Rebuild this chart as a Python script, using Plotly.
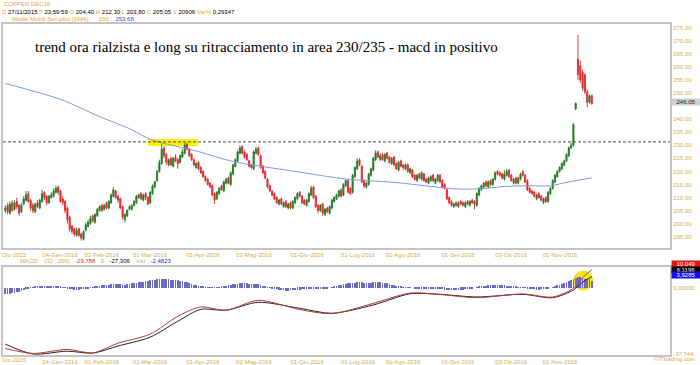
import plotly.graph_objects as go

# ---------------- DATA ----------------
open_ = [205.0, 207.0, 204.0, 208.0, 205.5, 208.5, 207.0, 204.5, 207.5, 209.0,
         211.5, 209.0, 207.0, 204.5, 208.0, 206.0, 208.5, 212.0, 210.5, 208.0,
         210.0, 210.5, 212.0, 214.0, 212.5, 209.5, 208.5, 206.0, 202.5, 199.0,
         198.0, 195.5, 198.0, 196.0, 194.0, 197.5, 199.0, 200.0, 203.0, 200.5,
         203.0, 205.0, 207.0, 205.5, 208.0, 206.0, 208.0, 210.5, 212.5, 210.5,
         209.5, 206.5, 201.5, 203.0, 205.5, 205.5, 207.0, 208.0, 210.0, 211.5,
         209.0, 211.5, 210.0, 208.0, 211.5, 214.0, 216.5, 220.0, 223.0, 229.0,
         226.5, 222.5, 225.0, 222.0, 225.5, 224.5, 223.5, 225.5, 227.0, 230.5,
         228.5, 226.5, 224.5, 221.5, 223.5, 221.5, 220.0, 218.0, 217.0, 215.5,
         214.5, 211.5, 209.5, 211.5, 214.5, 212.5, 215.5, 217.5, 215.0, 219.0,
         222.0, 224.0, 227.0, 229.5, 227.5, 226.5, 224.0, 222.5, 221.0, 227.0,
         229.0, 226.0, 222.0, 220.0, 217.0, 214.5, 212.5, 211.5, 210.0, 207.5,
         209.5, 206.5, 208.5, 206.0, 208.0, 206.0, 208.0, 209.5, 212.0, 210.5,
         209.0, 207.0, 208.5, 211.0, 214.0, 210.5, 207.0, 205.0, 207.5, 203.5,
         206.0, 204.0, 206.0, 208.5, 209.5, 210.5, 213.0, 211.0, 214.5, 216.5,
         213.5, 212.0, 218.0, 221.0, 224.5, 222.0, 216.5, 214.0, 215.0, 218.5,
         220.5, 224.5, 227.5, 224.5, 226.5, 224.0, 227.0, 225.5, 223.0, 225.5,
         223.0, 220.5, 224.0, 222.5, 221.0, 222.5, 219.5, 220.5, 218.5, 216.5,
         219.0, 217.0, 219.0, 217.0, 215.5, 216.5, 218.5, 215.5, 216.5, 218.5,
         216.5, 215.0, 213.0, 210.0, 208.5, 206.5, 208.0, 206.5, 208.5, 208.0,
         206.5, 208.5, 207.0, 209.0, 208.5, 207.0, 211.0, 213.0, 214.0, 216.0,
         214.0, 216.5, 215.0, 217.0, 220.0, 219.5, 219.0, 217.0, 218.5, 220.5,
         218.5, 215.5, 217.5, 215.5, 217.0, 220.0, 218.5, 216.5, 213.5, 212.5,
         212.0, 209.5, 211.5, 210.5, 208.0, 210.0, 208.5, 211.5, 213.5, 216.0,
         218.0, 220.0, 221.0, 222.5, 224.0, 226.0, 229.0, 230.0, 244.0, 263.0,
         260.5, 258.0, 257.0, 250.5, 246.5, 249.0]

high = [207, 208, 208.5, 209, 209, 210, 207.5, 208, 210.5, 212.5,
        212.5, 209.5, 208, 208, 209, 209.5, 213, 212.5, 211, 211,
        212, 213.5, 214.5, 214.5, 213, 210.5, 209, 206.5, 203, 199.5,
        198.5, 198.5, 198.5, 196.5, 197.5, 200.5, 201.5, 203, 203.5, 204,
        206, 207, 207.5, 207.5, 208.5, 209, 211.5, 214, 213, 211,
        210, 207, 204, 205.5, 207, 207.5, 209, 211, 211.5, 212,
        211.5, 212, 210.5, 212.5, 215, 216.5, 220.5, 224.5, 230.5, 229.5,
        227, 225, 225.5, 225.5, 226.5, 225, 226.5, 228.5, 231, 231,
        229, 227, 225, 223.5, 224, 222, 220.5, 218.5, 217.5, 216,
        215, 212, 212.5, 214, 215, 216.5, 217.5, 218, 220, 223,
        225, 228, 230, 230, 228, 227, 224.5, 223, 228, 229.5,
        229.5, 226.5, 222.5, 220.5, 217.5, 215, 213, 212, 210.5, 209.5,
        210, 208.5, 209, 208, 208.5, 209, 210.5, 212, 212.5, 211,
        209.5, 209.5, 212, 214.5, 214.5, 211, 207.5, 207.5, 208, 206,
        206.5, 207, 209.5, 210.5, 211.5, 213, 213.5, 215.5, 217, 217,
        214, 219, 222, 225, 225, 222.5, 217, 216, 219.5, 221.5,
        225.5, 228, 228, 227, 227, 227, 227.5, 226, 225.5, 226,
        223.5, 224, 224.5, 223, 223, 223, 221.5, 221, 219, 219,
        219.5, 220, 219.5, 217.5, 218, 218.5, 219, 217.5, 219, 219,
        217, 215.5, 213.5, 210.5, 209, 208, 208.5, 208.5, 209, 208.5,
        208.5, 209, 209, 209.5, 209, 212, 214, 215, 216, 216.5,
        216.5, 217, 217.5, 220, 220.5, 220, 219.5, 220.5, 221, 221,
        219, 217.5, 218, 218, 219.5, 220.5, 219, 217, 214, 213,
        212.5, 211.5, 212, 211, 210, 210.5, 212.5, 214, 217, 219,
        220.5, 222, 223.5, 224.5, 227, 229.5, 231, 238.5, 246.5, 272.3,
        262.5, 259, 257.5, 251.5, 249.5, 249.5]

low = [204, 203.5, 203.5, 204.5, 205, 205.5, 203, 204, 207, 208.5,
       208, 205, 204, 204, 206, 205.5, 208, 209, 207, 207.5,
       209.5, 210, 211.5, 211, 208, 207, 204, 200, 197, 196,
       195, 195, 195, 193.5, 193.5, 197, 198.5, 199.5, 200.5, 200,
       202.5, 204.5, 204.5, 205, 205.5, 205.5, 207.5, 210, 209.5, 208,
       205.5, 201.5, 200.5, 202.5, 205, 205, 206.5, 207.5, 209.5, 209,
       208.5, 209, 207, 207.5, 211, 213.5, 216, 219.5, 222.5, 225,
       222.5, 222, 222, 221.5, 223.5, 221, 223, 225, 226.5, 228,
       225.5, 224, 222, 221, 220.5, 219, 217.5, 216, 214.5, 213.5,
       210.5, 207.5, 209, 211, 212.5, 212, 215, 215, 214.5, 218.5,
       221.5, 223.5, 226.5, 226.5, 225, 224, 221.5, 221, 220.5, 226.5,
       226, 221, 219, 217, 213.5, 212, 210.5, 209, 207.5, 207,
       207, 206, 206, 205.5, 205.5, 205.5, 207.5, 209, 210, 207.5,
       207, 206.5, 208, 210.5, 209.5, 206, 204, 204.5, 203, 203,
       204, 203.5, 205.5, 208, 209, 210, 210, 210.5, 214, 211.5,
       211, 211.5, 217.5, 220.5, 222, 215.5, 213.5, 213.5, 214.5, 218,
       220, 224, 225, 224, 224, 223.5, 224.5, 223, 222.5, 222,
       220.5, 220, 221.5, 220.5, 220.5, 219.5, 219, 217.5, 216.5, 216,
       217, 216.5, 216, 215.5, 215, 216, 216, 215, 216, 215.5,
       213.5, 213, 209, 207.5, 206.5, 206, 206.5, 206, 207, 206.5,
       206, 207, 206.5, 207.5, 205.5, 206.5, 210.5, 212.5, 213.5, 214,
       213.5, 214.5, 214.5, 216.5, 218.5, 218, 217, 216.5, 218, 217.5,
       216, 215, 215, 215, 216.5, 218, 215.5, 212.5, 211.5, 211,
       210, 209, 209.5, 208.5, 207.5, 208, 208, 211, 213, 215.5,
       217.5, 219.5, 220.5, 222, 223.5, 225.5, 228.5, 229.5, 243.5, 255,
       254, 251, 249.5, 244.5, 246, 245.5]

close = [206.0, 204.5, 207.5, 205.0, 208.0, 206.5, 204.0, 207.0, 209.5, 211.0,
         208.5, 206.0, 205.0, 207.5, 206.5, 209.0, 211.5, 210.0, 208.0, 210.5,
         211.0, 212.5, 213.5, 212.0, 208.5, 208.0, 205.0, 201.5, 198.0, 197.0,
         196.0, 197.5, 195.5, 194.5, 197.0, 199.5, 200.5, 202.0, 201.0, 203.5,
         205.5, 206.5, 205.0, 207.0, 206.0, 208.5, 211.0, 213.0, 210.0, 209.0,
         206.0, 202.5, 203.5, 205.0, 206.5, 207.0, 208.5, 210.5, 211.0, 209.5,
         211.0, 210.0, 207.5, 212.0, 214.5, 216.0, 220.0, 223.5, 228.5, 226.0,
         223.5, 224.5, 222.5, 225.0, 224.0, 223.0, 226.0, 227.5, 230.0, 228.5,
         226.0, 224.5, 222.5, 223.0, 221.0, 219.5, 218.0, 216.5, 215.0, 214.0,
         211.0, 209.0, 212.0, 213.5, 213.0, 216.0, 217.0, 215.5, 219.5, 222.5,
         224.5, 227.5, 229.0, 227.0, 225.5, 224.5, 222.0, 221.5, 227.5, 228.5,
         226.5, 221.5, 219.5, 217.5, 214.0, 212.5, 211.0, 209.5, 208.0, 209.0,
         207.5, 208.0, 206.5, 207.5, 206.0, 208.5, 210.0, 211.5, 210.5, 208.0,
         207.5, 209.0, 211.5, 213.5, 210.0, 206.5, 205.0, 207.0, 204.0, 205.5,
         204.5, 206.5, 209.0, 210.0, 211.0, 212.5, 210.5, 215.0, 216.5, 212.0,
         211.5, 218.5, 221.5, 224.0, 222.5, 216.0, 214.5, 215.5, 219.0, 221.0,
         225.0, 227.0, 225.5, 226.0, 224.5, 226.5, 225.0, 223.5, 225.0, 222.5,
         221.0, 223.5, 222.0, 221.5, 222.5, 220.0, 221.0, 218.0, 217.0, 218.5,
         217.5, 219.5, 216.5, 216.0, 217.5, 218.0, 216.5, 217.0, 218.5, 216.0,
         214.0, 213.5, 209.5, 208.0, 207.0, 207.5, 207.0, 208.0, 207.5, 207.0,
         208.0, 207.5, 208.5, 208.0, 207.5, 211.5, 213.5, 214.5, 215.5, 214.5,
         216.0, 215.0, 217.0, 219.5, 219.0, 218.5, 217.5, 219.0, 220.0, 218.0,
         216.5, 217.0, 215.5, 217.5, 219.0, 218.5, 216.0, 213.0, 212.0, 211.5,
         210.5, 211.0, 210.0, 209.0, 209.5, 208.5, 212.0, 213.5, 216.5, 218.5,
         220.0, 221.5, 223.0, 224.0, 226.5, 229.0, 230.0, 238.0, 246.0, 257.0,
         255.0, 252.0, 250.5, 246.5, 249.0, 246.05]

candle_idx = list(range(len(close)))

sma_idx = [0, 24, 41, 55, 63, 84, 99, 126, 148, 169, 196, 206, 217, 227, 237, 245, 255]
sma_val = [253.68, 247.6, 241.0, 236.0, 232.3, 227.6, 223.8, 220.0, 217.1, 215.8,
           213.3, 213.3, 214.2, 214.5, 214.5, 216.0, 217.5]

macd_idx = [0, 12, 27, 38, 49, 63, 75, 85, 96, 110, 128, 142, 160, 176, 189, 205, 225, 238, 247, 251, 255]
macd_val = [-34.5, -37.3, -35.0, -37.0, -31.5, -26.4, -16.3, -11.0, -12.9, -7.3, -12.5,
            -14.8, -9.0, -3.2, -4.0, -5.8, -3.7, -5.4, -0.5, 5.5, 10.049]
signal_val = [-32.0, -37.6, -36.0, -37.1, -33.1, -28.1, -19.1, -12.4, -12.9, -8.4, -11.8,
              -14.6, -9.9, -3.6, -3.9, -5.4, -3.9, -5.8, -1.5, 3.0, 6.1196]

hist_val = [-3.5, -3.4, -3.2, -3.0, -2.8, -2.5, -2.2, -1.8, -1.2, -0.6,
            -0.3, 0.2, 0.5, 0.8, 1.0, 1.2, 1.3, 1.2, 1.0, 0.8,
            0.6, 0.8, 1.0, 1.1, 0.9, 0.5, 0.1, -0.3, -0.6, -0.8,
            -1.0, -1.1, -1.0, -0.9, -0.7, -0.4, -0.1, 0.2, 0.5, 0.8,
            1.0, 1.3, 1.5, 1.6, 1.7, 1.8, 2.0, 2.2, 2.3, 2.2,
            2.0, 1.8, 1.9, 2.1, 2.3, 2.5, 2.7, 2.9, 3.1, 3.3,
            3.5, 3.7, 3.9, 4.2, 4.5, 4.7, 4.9, 5.0, 5.1, 5.0,
            4.9, 4.8, 4.6, 4.5, 4.4, 4.2, 4.0, 3.8, 3.5, 3.1,
            2.7, 2.2, 1.8, 1.4, 1.1, 0.8, 0.6, 0.5, 0.4, 0.3,
            0.2, 0.1, 0.2, 0.4, 0.6, 0.9, 1.2, 1.5, 1.8, 2.0,
            2.2, 2.4, 2.6, 2.7, 2.7, 2.6, 2.4, 2.3, 2.3, 2.2,
            2.0, 1.7, 1.3, 0.9, 0.5, 0.1, -0.3, -0.6, -0.9, -1.1,
            -1.3, -1.4, -1.5, -1.5, -1.4, -1.3, -1.2, -1.1, -1.0, -0.9,
            -0.8, -0.6, -0.4, -0.3, -0.4, -0.6, -0.8, -0.9, -0.8, -0.6,
            -0.3, 0.0, 0.4, 0.8, 1.2, 1.6, 1.9, 2.2, 2.4, 2.5,
            2.5, 2.7, 2.9, 3.1, 3.2, 3.2, 3.0, 2.9, 2.9, 3.0,
            3.1, 3.2, 3.2, 3.1, 2.9, 2.7, 2.5, 2.2, 1.9, 1.6,
            1.3, 1.0, 0.7, 0.5, 0.3, 0.2, 0.1, 0.0, -0.1, -0.2,
            -0.2, -0.3, -0.3, -0.4, -0.4, -0.5, -0.5, -0.6, -0.7, -0.8,
            -0.9, -1.0, -1.2, -1.3, -1.4, -1.4, -1.3, -1.2, -1.1, -1.0,
            -0.8, -0.6, -0.4, -0.2, 0.0, 0.3, 0.6, 0.9, 1.1, 1.3,
            1.4, 1.5, 1.6, 1.7, 1.7, 1.6, 1.5, 1.4, 1.3, 1.1,
            0.9, 0.7, 0.6, 0.4, 0.3, 0.2, 0.1, -0.2, -0.5, -0.7,
            -0.9, -1.0, -1.0, -0.9, -0.8, -0.6, -0.3, 0.0, 0.4, 0.9,
            1.4, 1.9, 2.4, 2.9, 3.4, 3.9, 4.3, 4.8, 5.4, 5.9,
            5.9, 5.6, 5.3, 5.1, 4.8, 3.9285]

date_tick_pos = [23.8, 41.9, 62.9, 85.9, 108.1, 131.2, 153.3, 172.9, 196.8, 219.9, 241.2]
date_tick_text = ["04-Gen-2016", "01-Feb-2016", "01-Mar-2016", "01-Apr-2016", "02-Mag-2016",
                  "01-Giu-2016", "01-Lug-2016", "01-Ago-2016", "01-Set-2016", "03-Ott-2016",
                  "01-Nov-2016"]
# 245.00 is hidden behind the last-price marker in the reference
price_ticks = [195, 200, 205, 210, 215, 220, 225, 230, 235, 240, 250, 255, 260, 265, 270, 275]
price_tick_text = ["%.2f" % v for v in price_ticks]
macd_ticks = [0, -37.744]
macd_tick_text = ["0,00000", "-37,744"]

resistance_level = 231.3
last_price = 246.05

# ---------------- FIGURE ----------------
W, H = 700, 365
def px(x): return x / W
def py(y): return 1 - y / H

GOLD = "#cfae52"
ORANGE = "#eea43a"
FONT = "Liberation Sans, Arial, sans-serif"

fig = go.Figure()

fig.add_trace(go.Candlestick(
    x=candle_idx, open=open_, high=high, low=low, close=close,
    xaxis="x", yaxis="y",
    increasing=dict(line=dict(color="#1f7a23", width=0.9), fillcolor="#1f7a23"),
    decreasing=dict(line=dict(color="#e2282d", width=0.9), fillcolor="#e2282d"),
    whiskerwidth=0, showlegend=False, hoverinfo="skip"))

fig.add_trace(go.Scatter(x=sma_idx, y=sma_val, mode="lines", xaxis="x", yaxis="y",
                         line=dict(color="#7d9bd4", width=1, shape="spline", smoothing=0.8),
                         showlegend=False, hoverinfo="skip"))

fig.add_trace(go.Bar(x=candle_idx, y=hist_val, xaxis="x2", yaxis="y2", width=0.32,
                     marker=dict(color="#6a6abf", line=dict(width=0)),
                     showlegend=False, hoverinfo="skip"))
fig.add_trace(go.Scatter(x=macd_idx, y=signal_val, mode="lines", xaxis="x2", yaxis="y2",
                         line=dict(color="#222222", width=1, shape="spline", smoothing=0.8),
                         showlegend=False, hoverinfo="skip"))
fig.add_trace(go.Scatter(x=macd_idx, y=macd_val, mode="lines", xaxis="x2", yaxis="y2",
                         line=dict(color="#b83a3a", width=1, shape="spline", smoothing=0.8),
                         showlegend=False, hoverinfo="skip"))

xdom = [px(3), px(670)]
xrange_ = [-1, 289]
axis_line = dict(showline=True, linecolor="#c4c4c4", linewidth=2, mirror=True,
                 showgrid=False, zeroline=False, ticks="")

fig.update_layout(
    width=W, height=H, margin=dict(l=0, r=0, t=0, b=0),
    paper_bgcolor="white", plot_bgcolor="white",
    font=dict(family=FONT, size=6, color=GOLD),
    bargap=0,
    xaxis=dict(domain=xdom, range=xrange_, anchor="y", tickvals=date_tick_pos,
               ticktext=date_tick_text, tickfont=dict(size=6, color=GOLD),
               rangeslider=dict(visible=False), **axis_line),
    yaxis=dict(domain=[py(249), py(24)], range=[190.8, 276.52], side="right", anchor="x",
               tickvals=price_ticks, ticktext=price_tick_text,
               tickfont=dict(size=6, color=GOLD), **axis_line),
    xaxis2=dict(domain=xdom, range=xrange_, anchor="y2", tickvals=date_tick_pos,
                ticktext=date_tick_text, tickfont=dict(size=6, color=GOLD), **axis_line),
    yaxis2=dict(domain=[py(357), py(268)], range=[-38.2, 11.8], side="right", anchor="x2",
                tickvals=macd_ticks, ticktext=macd_tick_text,
                tickfont=dict(size=6, color=GOLD), **axis_line),
)

shapes = [
    dict(type="rect", xref="x", yref="y", x0=62, x1=83.8, y0=229.7, y1=232.4,
         fillcolor="#fff200", line=dict(width=0), layer="below"),
    dict(type="line", xref="paper", yref="y", x0=xdom[0], x1=xdom[1],
         y0=resistance_level, y1=resistance_level,
         line=dict(color="#4a4a4a", width=1, dash="3px,2px")),
    dict(type="circle", xref="x2", yref="y2", x0=247.0, x1=255.6, y0=-1.7, y1=9.5,
         fillcolor="#f4e21a", line=dict(width=0), layer="below"),
]
fig.update_layout(shapes=shapes)

def ann(text, x, y, size=6, color=GOLD, xanchor="left", family=FONT, **kw):
    fig.add_annotation(text=text, x=px(x), y=py(y), xref="paper", yref="paper",
                       xanchor=xanchor, yanchor="middle", showarrow=False,
                       font=dict(size=size, color=color, family=family), **kw)

ann("trend ora rialzista e long su ritracciamento in area 230/235 - macd in positivo",
    33, 47, size=15, color="#000000", family="Liberation Serif, Times New Roman, serif")

ann("COPPER DEC16", 2, 4, color=ORANGE)
def o(t): return '<span style="color:%s">%s</span>' % (ORANGE, t)
def k(t, c="#000000"): return '<span style="color:%s">%s</span>' % (c, t)
line2 = (o("D") + " " + k("27/11/2015") + " " + o("T") + " " + k("23:59:59") + " " +
         o("O") + " " + k("204,40") + " " + o("H") + " " + k("212,30") + " " +
         o("L") + " " + k("203,80") + " " + o("C") + " " + k("205,05") + " " +
         o("V") + " " + k("20906") + " " + o("Var%") + " " + k("0,29347"))
ann(line2, 0, 12)
ann(o("Medie Mobili Semplici (SMA)") + "      " + o("200") + " " + o(":") + "  " +
    k("253,68", "#3050d0"), 10, 19)

ann(o("MACD") + "    " + o("(32 , 200)") + "   " + k("-29,788", "#d03030") + "   " +
    o("S") + "   " + k("-27,306") + "    " + o("Hst") + "   " + k("-2,4823", "#2030c0"), 18, 262)

ann("Dic-2015", 0, 256)
ann("Dic-2015", 0, 362)

# last price & MACD value boxes on the right scale
ann("%.2f" % last_price, 686, 103, color="#222222", xanchor="center",
    bgcolor="#cfcfcf", width=28, borderpad=0)
ann("10,049", 686, 265, color="#ffffff", xanchor="center", bgcolor="#ee1010", width=28, borderpad=0)
ann("6,1196", 686, 271, color="#ffffff", xanchor="center", bgcolor="#000000", width=28, borderpad=0)
ann("3,9285", 686, 277, color="#ffffff", xanchor="center", bgcolor="#1010ee", width=28, borderpad=0)
ann("\u00a9ITtrading.com", 697, 361, color=ORANGE, xanchor="right")

fig.write_html("out.html")
